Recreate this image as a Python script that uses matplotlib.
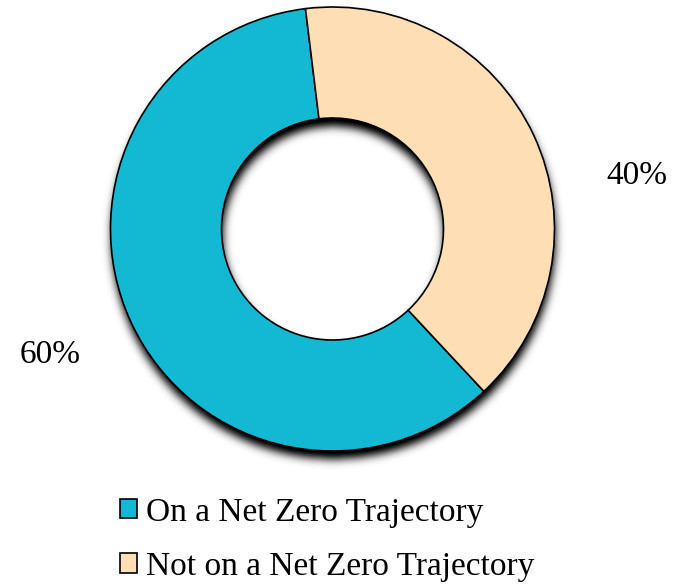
import numpy as np
import matplotlib.pyplot as plt
from matplotlib.patches import Patch

categories = ["On a Net Zero Trajectory", "Not on a Net Zero Trajectory"]
shares = [60, 40]
pct_labels = ["60%", "40%"]
colors = ["#13B9D2", "#FEDFB5"]

plt.rcParams['font.family'] = ['Liberation Serif', 'DejaVu Serif']

fig = plt.figure(figsize=(6.88, 5.85), dpi=100)
ax = fig.add_axes([0, 0, 1, 1])

wedges, _ = ax.pie(shares, colors=colors, startangle=97, counterclock=True,
                   radius=1.0,
                   wedgeprops=dict(width=0.5, edgecolor="black", linewidth=1.2, zorder=3))

# limits so that 1 data unit = 222 px and centre sits at (332.5, 229) px
px = 222.0
x0, y0 = 332.5, 229.0
xlim = (-x0 / px, (688 - x0) / px)
ylim = ((y0 - 585) / px, y0 / px)

# blurred drop shadow of the ring, shifted slightly down/right
xs = np.linspace(xlim[0], xlim[1], 688)
ys = np.linspace(ylim[0], ylim[1], 585)
X, Y = np.meshgrid(xs, ys)
sx, sy = 1.0 / px, -8.0 / px
R = np.hypot(X - sx, Y - sy)
mask = ((R <= 1.0) & (R >= 0.5)).astype(float)
sigma = 4.5
k = np.arange(-14, 15)
kern = np.exp(-k**2 / (2 * sigma**2))
kern /= kern.sum()
blur = np.apply_along_axis(lambda r: np.convolve(r, kern, mode='same'), 1, mask)
blur = np.apply_along_axis(lambda c: np.convolve(c, kern, mode='same'), 0, blur)
rgba = np.zeros((585, 688, 4))
rgba[..., 3] = np.clip(blur * 1.1, 0, 1)
ax.imshow(rgba, extent=(xs[0], xs[-1], ys[0], ys[-1]), origin='lower',
          zorder=1, aspect='auto', interpolation='bilinear')
ax.set_xlim(*xlim)
ax.set_ylim(*ylim)
ax.set_aspect('auto')
ax.axis('off')

# percentage labels outside the ring
angle_nudge = [-1, -15]
for w, lab, nd in zip(wedges, pct_labels, angle_nudge):
    ang = np.deg2rad((w.theta1 + w.theta2) / 2 + nd)
    ax.text(1.39 * np.cos(ang), 1.39 * np.sin(ang), lab, fontsize=24,
            ha='center', va='center', color='black')

handles = [Patch(facecolor=c, edgecolor='black', linewidth=1.2) for c in colors]
fig.legend(handles, categories, loc='upper left', bbox_to_anchor=(120 / 688, 1 - 497 / 585),
           frameon=False, fontsize=24, handlelength=0.52, handleheight=0.52,
           handletextpad=0.25, labelspacing=0.72, borderpad=0, borderaxespad=0)

fig.savefig("out.png", dpi=100)
